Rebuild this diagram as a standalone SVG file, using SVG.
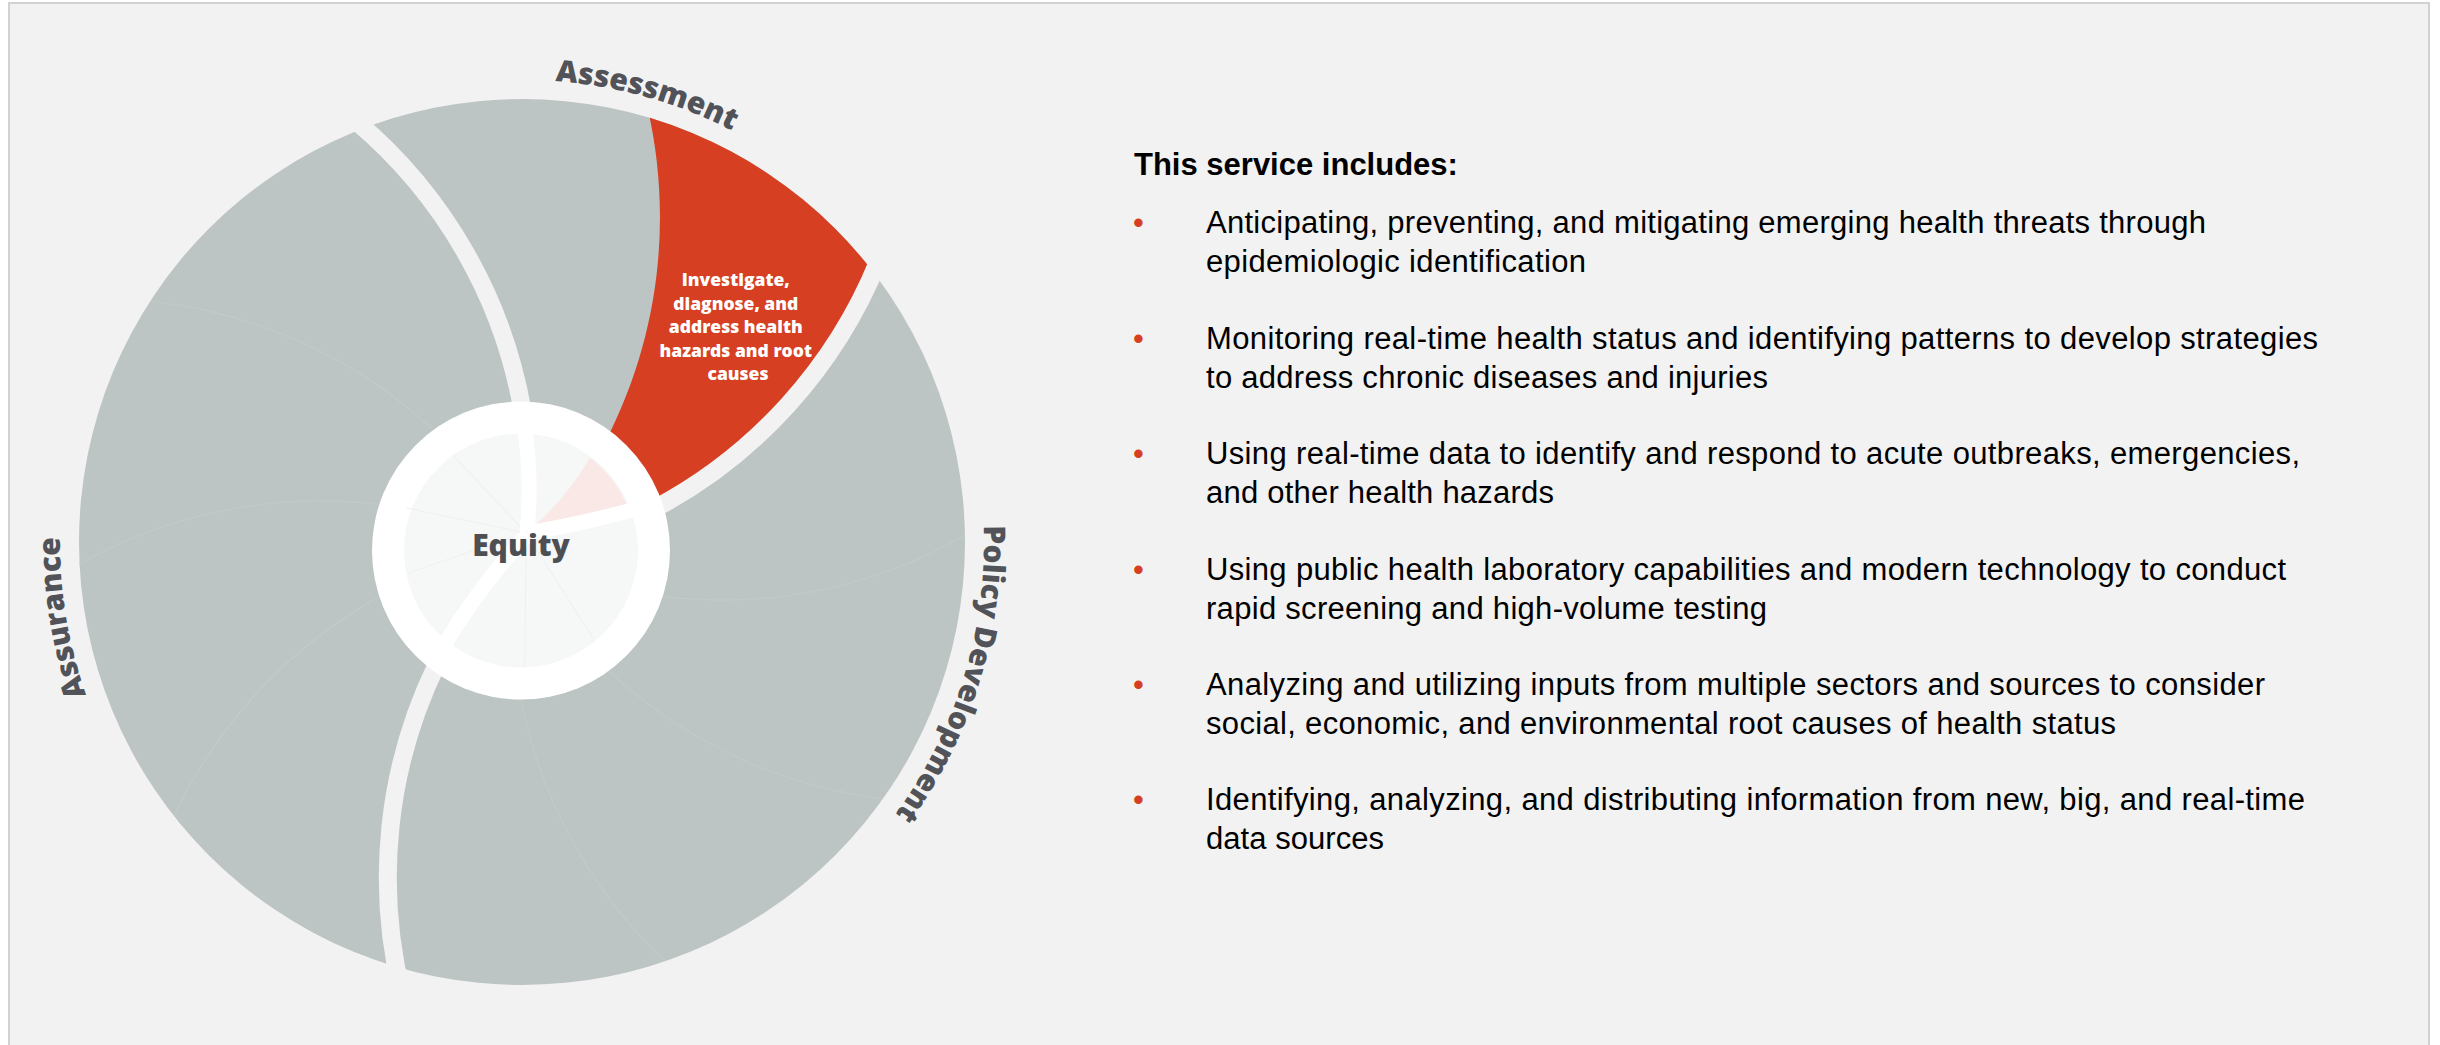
<svg xmlns="http://www.w3.org/2000/svg" xmlns:xlink="http://www.w3.org/1999/xlink" width="2440" height="1045" viewBox="0 0 2440 1045">
  <style>
    .gray { fill: #bcc5c3; }
    .red { fill: #d63f22; }
    .sep { fill: none; stroke: #f2f2f2; stroke-width: 18; }
    .faint { fill: none; stroke: #c2cac8; stroke-width: 1.3; }
    .dfaint { fill: none; stroke: #eff1f1; stroke-width: 1.2; }
    .dband { fill: none; stroke: #ffffff; stroke-width: 15; }
    .lbl { font-family: "Open Sans", "Liberation Sans", sans-serif; font-weight: 800; font-size: 30px; fill: #515358; }
    .svc { font-family: "Open Sans", "Liberation Sans", sans-serif; font-weight: 800; font-size: 17.5px; fill: #ffffff; text-anchor: middle; }
    .eq { font-family: "Open Sans", "Liberation Sans", sans-serif; font-weight: 800; font-size: 30px; fill: #4d4f53; text-anchor: middle; }
    .hd { font-family: "Liberation Sans", Arial, sans-serif; font-weight: 700; font-size: 31px; fill: #000000; }
    .li { font-family: "Liberation Sans", Arial, sans-serif; font-size: 31px; fill: #000000; }
    .bl { font-family: "Liberation Sans", Arial, sans-serif; font-size: 31px; fill: #d63f22; }
  </style>
  <defs>
    <clipPath id="wheelClip">
      <circle cx="522" cy="542" r="443"/>
    </clipPath>
    <path id="spoke" d="M660.99,551.99 C773.99,532.27 876.51,473.23 950.41,385.53"/>
    <path id="labelArc" d="M522,1004 A462,462 0 0 1 60,542 A462,462 0 0 1 522,80 A462,462 0 0 1 984,542 A462,462 0 0 1 522,1004"/>
  </defs>

  <rect id="page" x="0" y="0" width="2440" height="1045" fill="#ffffff"/>
  <rect id="panel" x="9" y="3" width="2420" height="1050" fill="#f2f2f2" stroke="#d2d2d2" stroke-width="2"/>

  <g id="wheel">
    <circle id="wheel-base" class="gray" cx="522" cy="542" r="443"/>
    <g id="service-investigate" clip-path="url(#wheelClip)">
      <path class="red" d="M521,550.5 L606.44,439.6 C658.69,337.48 673.24,220.08 647.68,108.28 L847.8,47.3 L878.41,260.92 C835.23,367.15 755.98,454.98 654.6,508.66 Z"/>
    </g>
    <g id="service-dividers" clip-path="url(#wheelClip)">
      <use xlink:href="#spoke" class="faint" transform="rotate(18 521 550.5)"/>
      <use xlink:href="#spoke" class="faint" transform="rotate(54 521 550.5)"/>
      <use xlink:href="#spoke" class="faint" transform="rotate(90 521 550.5)"/>
      <use xlink:href="#spoke" class="faint" transform="rotate(162 521 550.5)"/>
      <use xlink:href="#spoke" class="faint" transform="rotate(198 521 550.5)"/>
      <use xlink:href="#spoke" class="faint" transform="rotate(234 521 550.5)"/>
    </g>
    <g id="domain-separators">
      <use xlink:href="#spoke" class="sep" transform="rotate(-90 521 550.5)"/>
      <use xlink:href="#spoke" class="sep" transform="rotate(-18 521 550.5)"/>
      <use xlink:href="#spoke" class="sep" transform="rotate(126 521 550.5)"/>
    </g>
    <text class="svc">
      <tspan x="738" y="286">Investigate,</tspan>
      <tspan x="738" y="309.5">diagnose, and</tspan>
      <tspan x="738" y="333">address health</tspan>
      <tspan x="738" y="356.5">hazards and root</tspan>
      <tspan x="738" y="380">causes</tspan>
    </text>
  </g>

  <g id="equity">
    <circle cx="521" cy="550.5" r="149" fill="#ffffff"/>
    <circle cx="521" cy="550.5" r="117" fill="#f6f7f7"/>
    <path d="M530,530 Q565,500 590,458 A117,117 0 0 1 628,508 L530,532 Z" fill="#f9e8e5"/>
    <g id="equity-lines">
      <line class="dfaint" x1="526" y1="533" x2="453" y2="455"/>
      <line class="dfaint" x1="526" y1="533" x2="406" y2="508"/>
      <line class="dfaint" x1="526" y1="533" x2="408" y2="573"/>
      <line class="dfaint" x1="526" y1="533" x2="525" y2="667"/>
      <line class="dfaint" x1="526" y1="533" x2="593" y2="638"/>
      <path class="dband" d="M527,532 Q532,480 525,430"/>
      <path class="dband" d="M528,533 Q585,523 636,509"/>
      <path class="dband" d="M528,534 Q480,585 443,647"/>
    </g>
    <text class="eq" x="521" y="556">Equity</text>
  </g>

  <g id="domain-labels">
    <text class="lbl"><textPath xlink:href="#labelArc" startOffset="650" text-anchor="middle">Assurance</textPath></text>
    <text class="lbl"><textPath xlink:href="#labelArc" startOffset="1577" text-anchor="middle">Assessment</textPath></text>
    <text class="lbl"><textPath xlink:href="#labelArc" startOffset="2314" text-anchor="middle">Policy Development</textPath></text>
  </g>

  <g id="service-list">
    <text class="hd" x="1134" y="175">This service includes:</text>
    <g id="item-1">
      <text class="bl" x="1133" y="233">•</text>
      <text class="li" x="1206" y="233" textLength="1000" lengthAdjust="spacing">Anticipating, preventing, and mitigating emerging health threats through</text>
      <text class="li" x="1206" y="272" textLength="380" lengthAdjust="spacing">epidemiologic identification</text>
    </g>
    <g id="item-2">
      <text class="bl" x="1133" y="348.5">•</text>
      <text class="li" x="1206" y="348.5" textLength="1112" lengthAdjust="spacing">Monitoring real-time health status and identifying patterns to develop strategies</text>
      <text class="li" x="1206" y="387.5" textLength="562" lengthAdjust="spacing">to address chronic diseases and injuries</text>
    </g>
    <g id="item-3">
      <text class="bl" x="1133" y="464">•</text>
      <text class="li" x="1206" y="464" textLength="1094" lengthAdjust="spacing">Using real-time data to identify and respond to acute outbreaks, emergencies,</text>
      <text class="li" x="1206" y="503" textLength="348" lengthAdjust="spacing">and other health hazards</text>
    </g>
    <g id="item-4">
      <text class="bl" x="1133" y="579.5">•</text>
      <text class="li" x="1206" y="579.5" textLength="1080" lengthAdjust="spacing">Using public health laboratory capabilities and modern technology to conduct</text>
      <text class="li" x="1206" y="618.5" textLength="561" lengthAdjust="spacing">rapid screening and high-volume testing</text>
    </g>
    <g id="item-5">
      <text class="bl" x="1133" y="695">•</text>
      <text class="li" x="1206" y="695" textLength="1059" lengthAdjust="spacing">Analyzing and utilizing inputs from multiple sectors and sources to consider</text>
      <text class="li" x="1206" y="734" textLength="910" lengthAdjust="spacing">social, economic, and environmental root causes of health status</text>
    </g>
    <g id="item-6">
      <text class="bl" x="1133" y="810">•</text>
      <text class="li" x="1206" y="810" textLength="1099" lengthAdjust="spacing">Identifying, analyzing, and distributing information from new, big, and real-time</text>
      <text class="li" x="1206" y="849" textLength="178" lengthAdjust="spacing">data sources</text>
    </g>
  </g>
</svg>
